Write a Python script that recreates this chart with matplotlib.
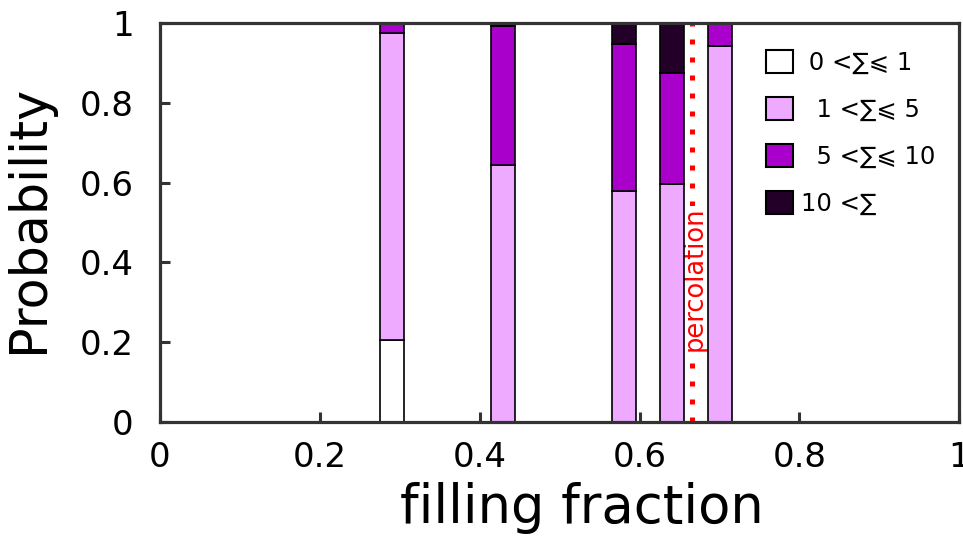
import matplotlib
matplotlib.use("Agg")
import matplotlib.pyplot as plt
import numpy as np

# data
fractions = [0.29, 0.429, 0.58, 0.64, 0.70]
p_0_1 = [0.205, 0.0, 0.0, 0.0, 0.0]
p_1_5 = [0.770, 0.645, 0.579, 0.597, 0.943]
p_5_10 = [0.025, 0.347, 0.368, 0.278, 0.057]
p_10 = [0.0, 0.008, 0.053, 0.125, 0.0]
labels = [" 0 <\u2211\u2a7d 1", "  1 <\u2211\u2a7d 5", "  5 <\u2211\u2a7d 10", "10 <\u2211"]
colors = ["#ffffff", "#eeaaff", "#aa00cc", "#220028"]
percolation = 0.665
xticks = [0, 0.2, 0.4, 0.6, 0.8, 1]
yticks = [0, 0.2, 0.4, 0.6, 0.8, 1]
ticklabels = ["0", "0.2", "0.4", "0.6", "0.8", "1"]

plt.rcParams['font.family'] = ['DejaVu Sans']
fig = plt.figure(figsize=(9.63, 5.37), dpi=100)
ax = fig.add_axes([0.1662, 0.2147, 0.9962 - 0.1662, 0.9566 - 0.2147])

series = [p_0_1, p_1_5, p_5_10, p_10]
bottom = np.zeros(len(fractions))
handles = []
for vals, col, lab in zip(series, colors, labels):
    v = np.array(vals)
    h = ax.bar(fractions, v, width=0.03, bottom=bottom, color=col,
               edgecolor="black", linewidth=1.2, label=lab, zorder=5)
    handles.append(h)
    bottom = bottom + v

ax.axvline(percolation, color="red", linewidth=3.6, linestyle=(0, (1, 2.6)), zorder=3)
ax.text(percolation + 0.0035, 0.36, "percolation", rotation=90, color="red",
        fontsize=18.5, ha="center", va="center", zorder=4,
        bbox=dict(facecolor="white", edgecolor="none", pad=0))

ax.set_xlim(0, 1)
ax.set_ylim(0, 1)
ax.set_xticks(xticks)
ax.set_yticks(yticks)
ax.set_xticklabels(ticklabels)
ax.set_yticklabels(ticklabels)
ax.tick_params(direction="in", length=7, width=2.2, labelsize=24.5, color="#333333")
ax.tick_params(axis="y", pad=19)
ax.tick_params(axis="x", pad=14)
for s in ax.spines.values():
    s.set_linewidth(2.3)
    s.set_color("#333333")
    s.set_zorder(6)

ax.set_xlabel("filling fraction", fontsize=38)
ax.set_ylabel("Probability", fontsize=36.5)
ax.xaxis.set_label_coords(0.5 + 22 / 799, -0.2535)
ax.xaxis.label.set_va("baseline")
ax.yaxis.set_label_coords(-0.133, 0.508)

leg = ax.legend(handles=handles, loc="upper left", frameon=False, fontsize=17.5,
                handlelength=1.12, handleheight=1.12, handletextpad=0.3,
                labelspacing=0.9, borderaxespad=0,
                bbox_to_anchor=(0.746, 0.958))
for patch in leg.get_patches():
    patch.set_linewidth(1.5)

fig.savefig("out.png", dpi=100)
